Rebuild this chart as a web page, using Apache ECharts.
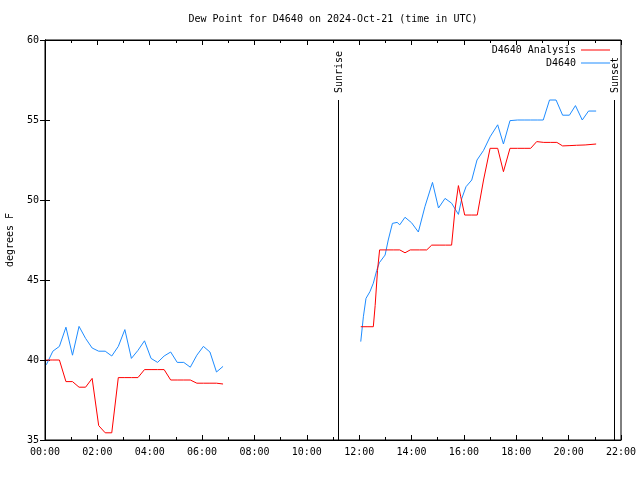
<!DOCTYPE html>
<html>
<head>
<meta charset="utf-8">
<script src="https://cdn.jsdelivr.net/npm/echarts@6/dist/echarts.min.js"></script>
<style>html,body{margin:0;padding:0;background:#fff;}#c{width:640px;height:480px;}</style>
</head>
<body>
<div id="c"></div>
<script>
// Times are hours UTC (decimal), values are degrees F
var obsTimes1 = [0.05,0.30,0.55,0.80,1.05,1.30,1.55,1.80,2.05,2.30,2.55,2.80,3.05,3.30,3.55,3.80,4.05,4.30,4.55,4.80,5.05,5.30,5.55,5.80,6.05,6.30,6.55,6.80];
var obsValues1 = [39.7,40.55,40.85,42.05,40.3,42.1,41.35,40.75,40.55,40.55,40.25,40.85,41.9,40.1,40.6,41.2,40.1,39.85,40.25,40.5,39.85,39.85,39.55,40.3,40.85,40.5,39.25,39.6];
var anaTimes1 = [0.05,0.30,0.55,0.80,1.05,1.30,1.55,1.80,2.05,2.30,2.55,2.80,3.05,3.30,3.55,3.80,4.05,4.30,4.55,4.80,5.05,5.30,5.55,5.80,6.05,6.30,6.55,6.80];
var anaValues1 = [40.0,40.0,40.0,38.65,38.65,38.3,38.3,38.85,35.9,35.45,35.45,38.9,38.9,38.9,38.9,39.4,39.4,39.4,39.4,38.75,38.75,38.75,38.75,38.55,38.55,38.55,38.55,38.5];

var obsTimes2 = [12.06,12.16,12.26,12.41,12.54,12.67,12.77,12.99,13.11,13.27,13.45,13.55,13.75,14.0,14.26,14.51,14.8,15.03,15.28,15.53,15.79,15.92,16.08,16.3,16.5,16.75,17.0,17.29,17.51,17.76,18.05,18.3,18.55,18.8,19.03,19.27,19.52,19.77,20.03,20.26,20.52,20.76,21.05];
var obsValues2 = [41.15,42.7,43.85,44.27,44.8,45.6,46.08,46.56,47.5,48.54,48.6,48.45,48.92,48.58,48.0,49.58,51.1,49.5,50.1,49.8,49.1,50.1,50.83,51.25,52.5,53.1,53.95,54.7,53.5,54.96,55.0,55.0,55.0,55.0,55.0,56.25,56.25,55.3,55.3,55.9,55.0,55.56,55.56];
var anaTimes2 = [12.06,12.3,12.54,12.61,12.7,12.78,13.05,13.3,13.55,13.75,13.95,14.3,14.58,14.77,15.05,15.3,15.53,15.66,15.79,15.88,16.03,16.3,16.51,16.75,17.0,17.29,17.51,17.76,18.05,18.3,18.55,18.78,19.05,19.3,19.55,19.77,20.05,20.3,20.63,21.05];
var anaValues2 = [42.08,42.08,42.08,43.4,45.6,46.88,46.88,46.88,46.88,46.7,46.88,46.88,46.88,47.18,47.18,47.18,47.18,49.4,50.9,50.2,49.06,49.06,49.06,51.25,53.23,53.23,51.77,53.23,53.23,53.23,53.23,53.65,53.6,53.6,53.6,53.38,53.4,53.42,53.44,53.5];

var sunNames = ['Sunrise','Sunset'];
var sunTimes = [11.19, 21.74];
var sunTop = 56.25;

var xTicks = ['00:00','02:00','04:00','06:00','08:00','10:00','12:00','14:00','16:00','18:00','20:00','22:00'];

function pairs(t, v) { return t.map(function (x, i) { return [x, v[i]]; }); }
function joinSegs(a, b) { return a.concat([[9, null]]).concat(b); }

var FONT = 'DejaVu Sans Mono';
var chart = echarts.init(document.getElementById('c'), null, {renderer: 'canvas'});
var axisTxt = {color: '#000', fontFamily: FONT, fontSize: 10};

chart.setOption({
  animation: false,
  backgroundColor: '#fff',
  title: {
    text: 'Dew Point for D4640 on 2024-Oct-21 (time in UTC)',
    left: 333, top: 14, padding: 0, textAlign: 'center',
    textStyle: {color: '#000', fontFamily: FONT, fontSize: 10, fontWeight: 'normal'}
  },
  legend: [
    {data: ['D4640 Analysis'], right: 30, top: 45, padding: 0, align: 'right', icon: 'rect', itemWidth: 29, itemHeight: 1,
     textStyle: {color: '#000', fontFamily: FONT, fontSize: 10}},
    {data: ['D4640'], right: 30, top: 58, padding: 0, align: 'right', icon: 'rect', itemWidth: 29, itemHeight: 1,
     textStyle: {color: '#000', fontFamily: FONT, fontSize: 10}}
  ],
  grid: {left: 45, right: 19, top: 40, bottom: 40, outerBoundsMode: 'none', containLabel: false,
         show: true, borderColor: '#000', borderWidth: 1, backgroundColor: 'transparent'},
  xAxis: [
    {type: 'value', min: 0, max: 22, interval: 2, position: 'bottom',
     axisLine: {show: true, lineStyle: {color: '#000', width: 1}},
     axisTick: {show: true, inside: true, length: 5, lineStyle: {color: '#000'}},
     minorTick: {show: true, splitNumber: 2, length: 3, lineStyle: {color: '#000'}},
     splitLine: {show: false},
     axisLabel: Object.assign({margin: 7, formatter: function (v) { return xTicks[Math.round(v / 2)]; }}, axisTxt)},
    {type: 'value', min: 0, max: 22, interval: 2, position: 'top',
     axisLine: {show: true, lineStyle: {color: '#000', width: 1}},
     axisTick: {show: true, inside: true, length: 5, lineStyle: {color: '#000'}},
     minorTick: {show: true, splitNumber: 2, length: 3, lineStyle: {color: '#000'}},
     splitLine: {show: false}, axisLabel: {show: false}}
  ],
  yAxis: [
    {type: 'value', min: 35, max: 60, interval: 5, position: 'left',
     name: 'degrees F', nameLocation: 'middle', nameRotate: 90, nameGap: 30,
     nameTextStyle: {color: '#000', fontFamily: FONT, fontSize: 10},
     axisLine: {show: true, lineStyle: {color: '#000', width: 1}},
     axisTick: {show: true, inside: true, length: 5, lineStyle: {color: '#000'}},
     splitLine: {show: false},
     axisLabel: Object.assign({margin: 6}, axisTxt)},
    {type: 'value', min: 35, max: 60, interval: 5, position: 'right',
     axisLine: {show: true, lineStyle: {color: '#000', width: 1}},
     axisTick: {show: true, inside: true, length: 5, lineStyle: {color: '#000'}},
     splitLine: {show: false}, axisLabel: {show: false}}
  ],
  series: [
    {name: 'D4640 Analysis', type: 'line', xAxisIndex: 0, yAxisIndex: 0, showSymbol: false, symbol: 'none',
     connectNulls: false, color: '#ff0000', lineStyle: {color: '#ff0000', width: 1},
     data: joinSegs(pairs(anaTimes1, anaValues1), pairs(anaTimes2, anaValues2)), z: 3},
    {name: 'D4640', type: 'line', xAxisIndex: 0, yAxisIndex: 0, showSymbol: false, symbol: 'none',
     connectNulls: false, color: '#1e8cff', lineStyle: {color: '#1e8cff', width: 1},
     data: joinSegs(pairs(obsTimes1, obsValues1), pairs(obsTimes2, obsValues2)), z: 2},
    {name: 'sun', type: 'custom', xAxisIndex: 0, yAxisIndex: 0, silent: true, z: 4,
     data: sunTimes.map(function (t, i) { return [t, sunTop, i]; }),
     renderItem: function (params, api) {
       var top = api.coord([api.value(0), api.value(1)]);
       var bot = api.coord([api.value(0), 35]);
       var x = Math.round(top[0]) + 0.5;
       return {type: 'group', children: [
         {type: 'line', shape: {x1: x, y1: bot[1], x2: x, y2: top[1]}, style: {stroke: '#000', lineWidth: 1}},
         {type: 'text', x: x + 1, y: top[1] - 7, rotation: Math.PI / 2,
          style: {text: sunNames[api.value(2)], fill: '#000', font: '10px "' + FONT + '"', align: 'left', verticalAlign: 'middle'}}
       ]};
     }}
  ]
});
</script>
</body>
</html>
